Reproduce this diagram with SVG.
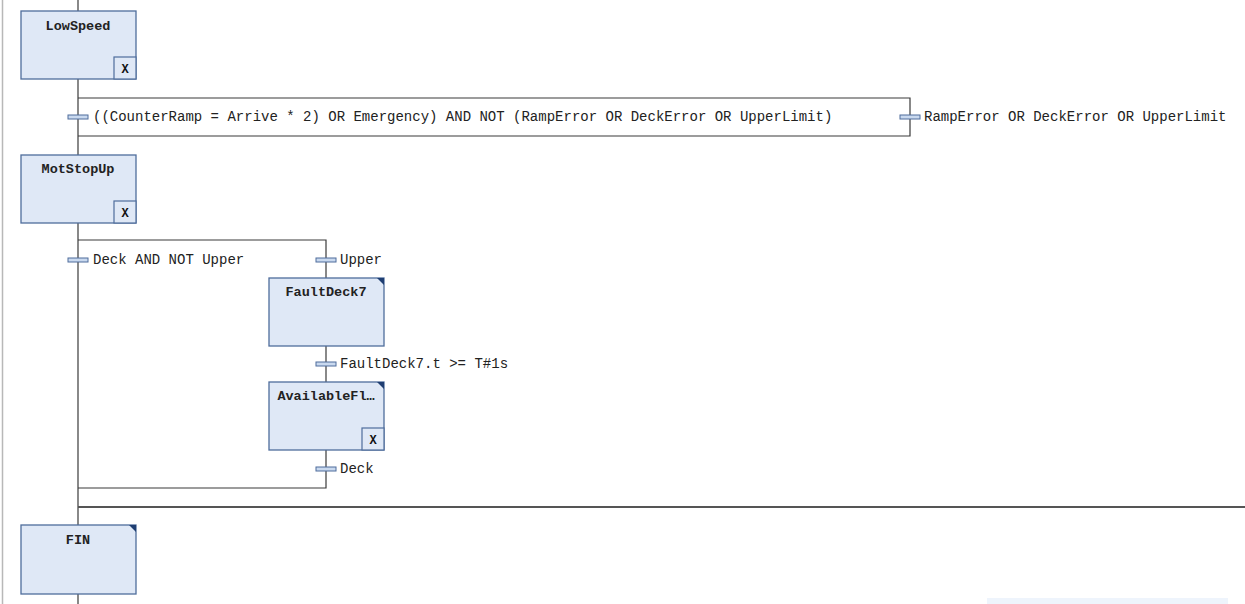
<svg xmlns="http://www.w3.org/2000/svg" width="1245" height="604" viewBox="0 0 1245 604">
<style>
.ln{stroke:#3a3a3a;stroke-width:1.2;fill:none}
.step{fill:#dfe8f6;stroke:#4f6d9c;stroke-width:1.3}
.xb{fill:#dfe8f6;stroke:#4f6d9c;stroke-width:1.2}
.tr{fill:#c9d9ef;stroke:#4f6d9c;stroke-width:1}
.corner{fill:#1f3e72}
.nm{font-family:"Liberation Mono","Courier New",monospace;font-size:13.5px;font-weight:bold;fill:#222;text-anchor:middle}
.tx{font-family:"Liberation Mono","Courier New",monospace;font-size:14px;fill:#222}
.xl{font-family:"Liberation Mono","Courier New",monospace;font-size:12px;font-weight:bold;fill:#111;text-anchor:middle}
</style>
<rect x="0" y="0" width="1245" height="604" fill="#ffffff"/>
<line x1="2.5" y1="0" x2="2.5" y2="604" stroke="#b8b8b8" stroke-width="1.5"/>
<rect x="987" y="598" width="241" height="6" fill="#eef4fc"/>
<g id="connectors">
<line class="ln" x1="78" y1="0" x2="78" y2="11"/>
<line class="ln" x1="78" y1="79" x2="78" y2="155"/>
<polyline class="ln" points="78,98 910,98 910,136 78,136"/>
<line class="ln" x1="78" y1="223" x2="78" y2="525"/>
<polyline class="ln" points="78,240 326,240 326,278"/>
<line class="ln" x1="326" y1="346" x2="326" y2="382"/>
<polyline class="ln" points="326,450 326,488 78,488"/>
<line x1="78" y1="507" x2="1245" y2="507" stroke="#555" stroke-width="1.8"/>
<line class="ln" x1="78" y1="594" x2="78" y2="604"/>
</g>
<g id="t1"><rect class="tr" x="68" y="115" width="20" height="4"/><text class="tx" x="93" y="121">((CounterRamp = Arrive * 2) OR Emergency) AND NOT (RampError OR DeckError OR UpperLimit)</text></g>
<g id="t2"><rect class="tr" x="900" y="115" width="20" height="4"/><text class="tx" x="924" y="121">RampError OR DeckError OR UpperLimit</text></g>
<g id="t3"><rect class="tr" x="68" y="258" width="20" height="4"/><text class="tx" x="93" y="264">Deck AND NOT Upper</text></g>
<g id="t4"><rect class="tr" x="316" y="258" width="20" height="4"/><text class="tx" x="340" y="264">Upper</text></g>
<g id="t5"><rect class="tr" x="316" y="362" width="20" height="4"/><text class="tx" x="340" y="368">FaultDeck7.t &gt;= T#1s</text></g>
<g id="t6"><rect class="tr" x="316" y="467" width="20" height="4"/><text class="tx" x="340" y="473">Deck</text></g>
<g id="LowSpeed"><rect class="step" x="21" y="11" width="115" height="68"/><text class="nm" x="78" y="30">LowSpeed</text><rect class="xb" x="114" y="57" width="22" height="22"/><text class="xl" x="125" y="73">X</text></g>
<g id="MotStopUp"><rect class="step" x="21" y="155" width="115" height="68"/><text class="nm" x="78" y="173">MotStopUp</text><rect class="xb" x="114" y="201" width="22" height="22"/><text class="xl" x="125" y="217">X</text></g>
<g id="FaultDeck7"><rect class="step" x="269" y="278" width="115" height="68"/><polygon class="corner" points="377,278 384,278 384,285"/><text class="nm" x="326" y="296">FaultDeck7</text></g>
<g id="AvailableFl"><rect class="step" x="269" y="382" width="115" height="68"/><polygon class="corner" points="377,382 384,382 384,389"/><text class="nm" x="326" y="400">AvailableFl…</text><rect class="xb" x="362" y="428" width="22" height="22"/><text class="xl" x="373" y="444">X</text></g>
<g id="FIN"><rect class="step" x="21" y="525" width="115" height="69"/><polygon class="corner" points="129,525 136,525 136,532"/><text class="nm" x="78" y="544">FIN</text></g>
</svg>
